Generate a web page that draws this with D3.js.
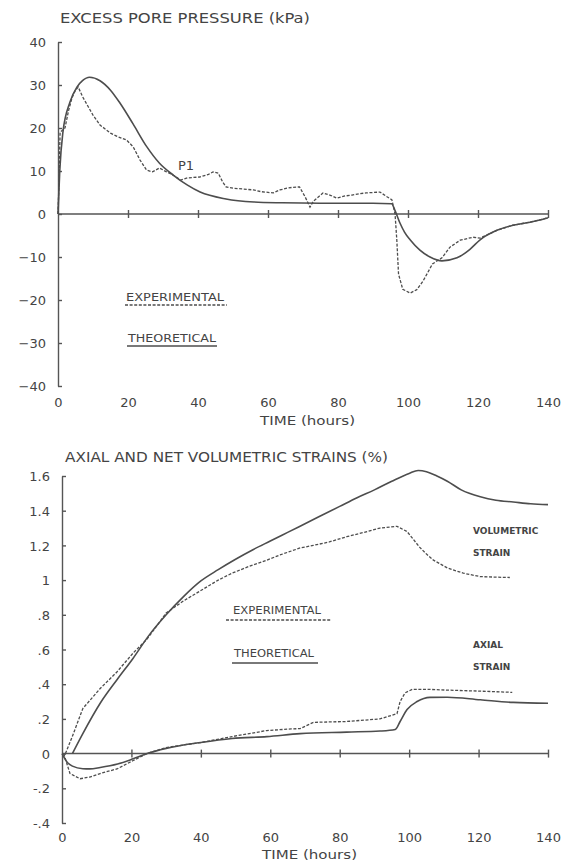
<!DOCTYPE html>
<html>
<head>
<meta charset="utf-8">
<script src="https://cdn.jsdelivr.net/npm/d3@7"></script>
<style>
  body { margin: 0; background: #fff; }
  svg text { font-family: "DejaVu Sans", sans-serif; fill: #444; }
  .axis path, .axis line { stroke: #555; stroke-width: 1.4; }
  .axis text { font-size: 13px; fill: #444; }
</style>
</head>
<body>
<div id="chart-area"></div>
<script>
/***** Data: excess pore pressure (kPa) vs time (hours) *****/
const xTicks = [0, 20, 40, 60, 80, 100, 120, 140];
const ppTicks = [40, 30, 20, 10, 0, -10, -20, -30, -40];
const ppTickLabels = ["40", "30", "20", "10", "0", "\u221210", "\u221220", "\u221230", "\u221240"];

const ppTheoT = [0, 0.5, 1.4, 3.4, 5.4, 7, 9, 12, 15, 17.7, 21.4, 25.4, 29, 33, 37, 40.6, 48, 56, 64, 75, 90, 95.3,
                 96.3, 97.7, 99, 100.6, 103.4, 106.3, 109.7, 114, 117.7, 120.6, 125.4, 130, 134.9, 138.6, 140];
const ppTheoV = [0, 10, 19, 26, 29.5, 31, 31.8, 31, 28.8, 25.8, 21, 15.6, 11.8, 9, 6.7, 5.1, 3.5, 2.8, 2.6, 2.5, 2.5, 2.4,
                 0.8, -2.1, -4.2, -6.0, -8.4, -10, -10.9, -10.2, -8.2, -6.0, -3.8, -2.6, -1.9, -1.2, -0.9];

const ppExpT = [0, 0.3, 0.6, 2, 3, 4, 5, 5.8, 7, 8.6, 10, 12, 15, 17, 19.6, 21.5, 23.4, 25.3, 27, 29, 31, 33, 35, 37,
                40.5, 43, 44.3, 45.8, 47, 48, 50, 53, 55.8, 58, 61.5, 63.4, 65.4, 67, 69, 70.6, 72, 73, 75.7, 78,
                79.6, 82, 84, 86, 88, 90, 92, 94, 95.4, 96.3, 96.8, 97.3, 98.5, 100.6, 102.5, 104.3, 107, 109.7, 112,
                114.9, 118.6, 120.6, 125.4, 130, 134.9, 138.6, 140];
const ppExpV = [0, 8, 19, 20, 24, 27, 28.8, 29.5, 27.3, 25, 23, 20.7, 18.8, 18, 17.2, 15.6, 12.6, 10.2, 9.8, 10.7, 9.8,
                9, 7.9, 8.4, 8.6, 9.2, 9.8, 9.5, 7.5, 6.3, 6, 5.8, 5.6, 5.2, 4.9, 5.6, 6, 6.2, 6.3, 4, 1.6, 3, 4.9,
                4.3, 3.7, 4.2, 4.4, 4.7, 4.9, 5, 5.1, 4, 3.3, 0, -6, -14, -17.5, -18.4, -17.6, -15.6, -11.6, -10.2, -7.7,
                -6.1, -5.4, -5.6, -3.8, -2.6, -1.9, -1.2, -0.8];

/***** Data: axial and net volumetric strains (%) vs time (hours) *****/
const stTicks = [1.6, 1.4, 1.2, 1, 0.8, 0.6, 0.4, 0.2, 0, -0.2, -0.4];
const stTickLabels = ["1.6", "1.4", "1.2", "1", ".8", ".6", ".4", ".2", "0", "-.2", "-.4"];

const volTheoT = [3, 6, 11, 16, 20.5, 25, 30, 35, 40, 45, 50, 55, 60, 65, 70, 75, 80, 85, 90, 95, 100, 102.6, 105, 108,
                  111, 115, 120.5, 125, 130, 135, 140];
const volTheoV = [0, 0.115, 0.29, 0.43, 0.55, 0.68, 0.8, 0.905, 0.995, 1.06, 1.12, 1.175, 1.225, 1.275, 1.325, 1.375,
                  1.425, 1.475, 1.52, 1.57, 1.615, 1.632, 1.625, 1.6, 1.57, 1.52, 1.48, 1.46, 1.45, 1.44, 1.435];

const volExpT = [1, 3, 6, 11, 15.8, 20.5, 24.5, 30, 35, 40, 45, 49, 54, 59, 62.8, 68.6, 72.4, 77, 82, 87, 91.6, 96.5,
                 99.4, 101, 103, 105, 107, 111, 115.6, 120.5, 125, 129];
const volExpV = [0, 0.1, 0.26, 0.375, 0.47, 0.58, 0.66, 0.81, 0.88, 0.94, 1.0, 1.04, 1.08, 1.115, 1.145, 1.185, 1.2,
                 1.22, 1.25, 1.275, 1.3, 1.31, 1.28, 1.24, 1.19, 1.15, 1.115, 1.07, 1.04, 1.02, 1.017, 1.015];

const axTheoT = [0, 1.5, 3, 6, 8, 11, 16, 20.5, 24.5, 30, 40, 49, 59, 68.6, 82, 91.6, 96, 97.4, 99.4, 102.3, 106, 111,
                 120.5, 130, 140];
const axTheoV = [0, -0.05, -0.072, -0.087, -0.088, -0.08, -0.06, -0.03, 0, 0.03, 0.064, 0.087, 0.098, 0.115, 0.124,
                 0.13, 0.139, 0.185, 0.254, 0.3, 0.324, 0.325, 0.31, 0.295, 0.29];

const axExpT = [0.5, 2.3, 5.2, 8, 11, 16, 20.5, 24.5, 30, 40, 49, 59, 66, 68.6, 72.4, 82, 91.6, 96.5, 97.4, 98.8, 100.9,
                106, 111, 120.5, 129.7];
const axExpV = [0, -0.115, -0.145, -0.135, -0.115, -0.087, -0.04, 0, 0.035, 0.064, 0.098, 0.133, 0.142, 0.144, 0.18,
                0.185, 0.2, 0.23, 0.3, 0.35, 0.37, 0.37, 0.366, 0.36, 0.353];

/***** Build *****/
const W = 567, H = 861;
const svg = d3.select("#chart-area").append("svg")
  .attr("width", W).attr("height", H);

const zip = (ts, vs) => ts.map((t, i) => ({ t, v: vs[i] }));
const condensed = "'DejaVu Sans Condensed', 'DejaVu Sans'";

function panel(o) {
  const x = d3.scaleLinear().domain([0, 140]).range([o.x0, o.x1]);
  const y = d3.scaleLinear().domain(o.yDomain).range([o.yBottom, o.yTop]);
  const g = svg.append("g");

  // y axis, ticks pointing inward (zero tick is covered by the x axis)
  g.append("g").attr("class", "axis")
    .attr("transform", `translate(${o.x0},0)`)
    .call(d3.axisLeft(y).tickValues(o.yTicks)
      .tickFormat(d => o.yLabels[o.yTicks.indexOf(d)])
      .tickSizeInner(-4).tickSizeOuter(0).tickPadding(o.yPad))
    .call(a => a.selectAll("text").attr("dy", "0.36em").attr("font-size", 13.5));

  // x axis drawn through zero with cross ticks
  g.append("line")
    .attr("x1", x(0)).attr("x2", x(140)).attr("y1", y(0)).attr("y2", y(0))
    .attr("stroke", "#555").attr("stroke-width", 1.5);
  g.append("g").attr("class", "axis")
    .attr("transform", `translate(0,${y(0) - 4})`)
    .call(d3.axisBottom(x).tickValues(xTicks.slice(1)).tickSize(8).tickFormat(""))
    .call(a => a.select(".domain").remove())
    .call(a => a.selectAll("line").attr("stroke-width", 1));

  // x tick labels at the bottom
  g.append("g").attr("class", "axis")
    .attr("transform", `translate(0,${o.labelY})`)
    .call(d3.axisBottom(x).tickValues(xTicks).tickSize(0).tickPadding(0))
    .call(a => a.select(".domain").remove())
    .call(a => a.selectAll("text").attr("dy", "0.36em").attr("font-size", 13.5));

  g.append("text").attr("x", o.timeX).attr("y", o.timeY)
    .attr("font-size", 13).attr("textLength", 95).attr("lengthAdjust", "spacingAndGlyphs")
    .text("TIME (hours)");
  g.append("text").attr("x", o.titleX).attr("y", o.titleY)
    .attr("font-size", 14).attr("textLength", o.titleW).attr("lengthAdjust", "spacingAndGlyphs")
    .text(o.title);

  const line = d3.line().x(d => x(d.t)).y(d => y(d.v));
  const smooth = d3.line().x(d => x(d.t)).y(d => y(d.v)).curve(d3.curveMonotoneX);

  o.series.forEach(s => {
    g.append("path").datum(zip(s.t, s.v))
      .attr("fill", "none").attr("stroke", "#4d4d4d")
      .attr("stroke-width", s.dash ? 1.3 : 1.6)
      .attr("stroke-dasharray", s.dash ? "3,1.6" : null)
      .attr("d", s.dash ? line : smooth);
  });

  // legend
  o.legend.forEach(l => {
    g.append("text").attr("x", l.x).attr("y", l.y)
      .attr("font-size", l.size).attr("font-family", condensed)
      .attr("textLength", l.w).attr("lengthAdjust", "spacingAndGlyphs")
      .text(l.text);
    g.append("line").attr("x1", l.lx0).attr("x2", l.lx1)
      .attr("y1", l.ly).attr("y2", l.ly)
      .attr("stroke", "#4d4d4d").attr("stroke-width", 1.3)
      .attr("stroke-dasharray", l.dash ? "3,1.6" : null);
  });

  (o.notes || []).forEach(n => {
    g.append("text").attr("x", n.x).attr("y", n.y)
      .attr("font-size", n.size).attr("font-family", condensed)
      .attr("font-weight", n.bold ? "bold" : null)
      .text(n.text);
  });
}

panel({
  x0: 58, x1: 548, yTop: 42, yBottom: 386, yDomain: [-40, 40],
  yTicks: ppTicks, yLabels: ppTickLabels, yPad: 12,
  labelY: 402, timeX: 260, timeY: 425, titleX: 60, titleY: 23, titleW: 250,
  title: "EXCESS PORE PRESSURE (kPa)",
  series: [
    { t: ppTheoT, v: ppTheoV, dash: false },
    { t: ppExpT, v: ppExpV, dash: true }
  ],
  legend: [
    { text: "EXPERIMENTAL", x: 126, y: 301, size: 10.5, w: 98, lx0: 125, lx1: 227, ly: 305, dash: true },
    { text: "THEORETICAL", x: 128, y: 342, size: 10.5, w: 88, lx0: 127, lx1: 217, ly: 346, dash: false }
  ],
  notes: [{ text: "P1", x: 178, y: 170, size: 13 }]
});

panel({
  x0: 62, x1: 548, yTop: 476, yBottom: 823, yDomain: [-0.4, 1.6],
  yTicks: stTicks, yLabels: stTickLabels, yPad: 12,
  labelY: 837, timeX: 262, timeY: 859, titleX: 65, titleY: 462, titleW: 323,
  title: "AXIAL AND NET VOLUMETRIC STRAINS (%)",
  series: [
    { t: volTheoT, v: volTheoV, dash: false },
    { t: volExpT, v: volExpV, dash: true },
    { t: axTheoT, v: axTheoV, dash: false },
    { t: axExpT, v: axExpV, dash: true }
  ],
  legend: [
    { text: "EXPERIMENTAL", x: 233, y: 614, size: 10, w: 88, lx0: 226, lx1: 331, ly: 620, dash: true },
    { text: "THEORETICAL", x: 234, y: 657, size: 10, w: 80, lx0: 232, lx1: 318, ly: 663, dash: false }
  ],
  notes: [
    { text: "VOLUMETRIC", x: 473, y: 534, size: 9, bold: true },
    { text: "STRAIN", x: 473, y: 556, size: 9, bold: true },
    { text: "AXIAL", x: 473, y: 648, size: 9, bold: true },
    { text: "STRAIN", x: 473, y: 670, size: 9, bold: true }
  ]
});
</script>
</body>
</html>
